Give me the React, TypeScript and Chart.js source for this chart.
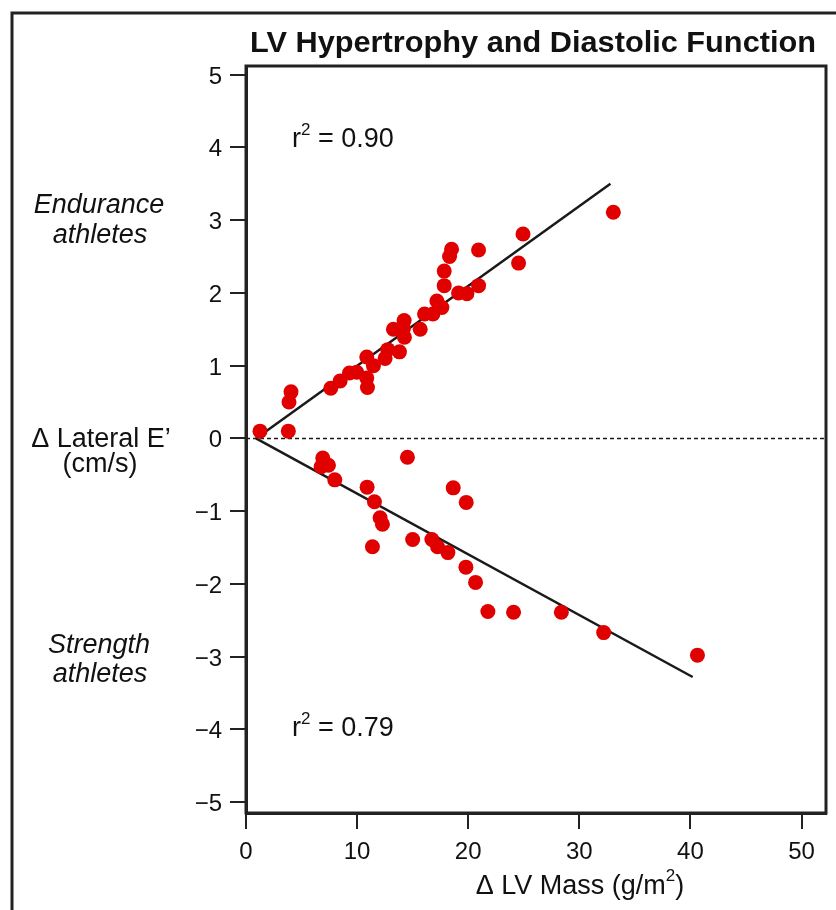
import React, { useEffect, useRef } from "react";
import { Chart, registerables } from "chart.js";

Chart.register(...registerables);

// ---- data ----
const enduranceX = [1.26, 3.81, 3.87, 4.05, 7.63, 8.47, 9.31, 9.97, 10.87, 10.93, 10.87, 11.47, 12.52, 12.76, 13.81, 13.27, 14.23, 14.17, 14.26, 15.68, 16.07, 16.82, 17.18, 17.63, 17.84, 17.84, 18.32, 18.5, 19.13, 19.88, 20.93, 20.93, 24.53, 24.93, 33.06];
const enduranceY = [0.1, 0.1, 0.5, 0.64, 0.69, 0.79, 0.9, 0.91, 0.83, 0.7, 1.12, 1.0, 1.1, 1.22, 1.19, 1.5, 1.62, 1.51, 1.39, 1.5, 1.71, 1.71, 1.89, 1.8, 2.1, 2.3, 2.5, 2.6, 2.0, 1.99, 2.1, 2.59, 2.41, 2.81, 3.11];
const strengthX = [6.91, 6.76, 7.42, 7.99, 10.9, 11.56, 12.07, 12.28, 11.38, 14.53, 15.0, 16.73, 17.24, 18.17, 18.65, 19.82, 19.79, 20.66, 21.77, 24.08, 28.38, 32.19, 40.63];
const strengthY = [-0.27, -0.39, -0.37, -0.57, -0.67, -0.87, -1.09, -1.18, -1.49, -0.26, -1.39, -1.39, -1.49, -1.57, -0.68, -0.88, -1.77, -1.98, -2.38, -2.39, -2.39, -2.67, -2.98];
const enduranceFitX = [0.9, 32.8];
const enduranceFitY = [0, 3.5];
const strengthFitX = [0.9, 40.2];
const strengthFitY = [0, -3.28];
const xTicks = [0, 10, 20, 30, 40, 50];
const yTicks = [-5, -4, -3, -2, -1, 0, 1, 2, 3, 4, 5];
const xRange = [0, 52.2];
const yRange = [-5.15, 5.12];
const referenceY = 0;
const titleText = "LV Hypertrophy and Diastolic Function";
const xTitle = "\u0394 LV Mass (g/m";
const yTitle1 = "\u0394 Lateral E\u2019";
const yTitle2 = "(cm/s)";
const groupTop = ["Endurance", "athletes"];
const groupBottom = ["Strength", "athletes"];
const r2Top = "0.90";
const r2Bottom = "0.79";

const zip = (xs: number[], ys: number[]) => xs.map((x, i) => ({ x, y: ys[i] }));

const FONT = "'Liberation Sans', Arial, Helvetica, sans-serif";
const INK = "#1a1a1a";
const RED = "#e00000";

const fmt = (v: any) => {
  const n = Number(v);
  return n < 0 ? "\u2212" + Math.abs(n) : String(n);
};

function drawText(ctx: CanvasRenderingContext2D, text: string, x: number, y: number, font: string, align: "left" | "center" | "right", sx = 1) {
  ctx.save();
  ctx.font = font;
  const w = ctx.measureText(text).width * sx;
  const left = align === "center" ? x - w / 2 : align === "right" ? x - w : x;
  ctx.translate(left, y);
  ctx.scale(sx, 1);
  ctx.textAlign = "left";
  ctx.textBaseline = "alphabetic";
  ctx.fillText(text, 0, 0);
  ctx.restore();
  return w;
}

function measure(ctx: CanvasRenderingContext2D, text: string, font: string) {
  ctx.save();
  ctx.font = font;
  const w = ctx.measureText(text).width;
  ctx.restore();
  return w;
}

export default function App() {
  const ref = useRef<HTMLCanvasElement | null>(null);

  useEffect(() => {
    document.body.style.margin = "0";
    const canvas = ref.current;
    if (!canvas) return;

    const decor = {
      id: "decor",
      beforeDatasetsDraw(chart: any) {
        const { ctx, chartArea } = chart;
        const y = chart.scales.y.getPixelForValue(referenceY);
        ctx.save();
        ctx.strokeStyle = INK;
        ctx.lineWidth = 1.5;
        ctx.setLineDash([4, 3]);
        ctx.beginPath();
        ctx.moveTo(chartArea.left, y);
        ctx.lineTo(chartArea.right, y);
        ctx.stroke();
        ctx.restore();
      },
      afterDraw(chart: any) {
        const { ctx, chartArea } = chart;
        ctx.save();
        // plot box
        ctx.strokeStyle = "#222";
        ctx.lineWidth = 3;
        ctx.strokeRect(chartArea.left, chartArea.top, chartArea.right - chartArea.left, chartArea.bottom - chartArea.top);
        // outer frame
        ctx.beginPath();
        ctx.moveTo(12, 912);
        ctx.lineTo(12, 13);
        ctx.lineTo(840, 13);
        ctx.stroke();

        ctx.fillStyle = "#111";

        // tick labels
        const tickFont = `24px ${FONT}`;
        const xs = chart.scales.x;
        const ys = chart.scales.y;
        xs.ticks.forEach((t: any) => {
          drawText(ctx, fmt(t.value), xs.getPixelForValue(t.value), 859, tickFont, "center");
        });
        ys.ticks.forEach((t: any) => {
          drawText(ctx, fmt(t.value), 222, ys.getPixelForValue(t.value) + 9, tickFont, "right");
        });

        // title
        const tf = `bold 30px ${FONT}`;
        const tw = measure(ctx, titleText, tf);
        drawText(ctx, titleText, 533, 52, tf, "center", 566 / tw);

        // y title
        const f27 = `27px ${FONT}`;
        drawText(ctx, yTitle1, 101, 447, f27, "center");
        drawText(ctx, yTitle2, 100, 472, f27, "center");

        // group labels
        const fi = `italic 27px ${FONT}`;
        drawText(ctx, groupTop[0], 99, 213, fi, "center");
        drawText(ctx, groupTop[1], 100, 243, fi, "center");
        drawText(ctx, groupBottom[0], 99, 653, fi, "center");
        drawText(ctx, groupBottom[1], 100, 682, fi, "center");

        // x title with superscript
        const supFont = `17px ${FONT}`;
        const wMain = measure(ctx, xTitle, f27);
        const wSup = measure(ctx, "2", supFont);
        const wClose = measure(ctx, ")", f27);
        const x0 = 580 - (wMain + wSup + wClose) / 2;
        drawText(ctx, xTitle, x0, 894, f27, "left");
        drawText(ctx, "2", x0 + wMain, 881, supFont, "left");
        drawText(ctx, ")", x0 + wMain + wSup, 894, f27, "left");

        // r^2 annotations
        const drawR2 = (val: string, base: number) => {
          let x = 292;
          x += drawText(ctx, "r", x, base, f27, "left");
          x += drawText(ctx, "2", x, base - 12, supFont, "left");
          drawText(ctx, " = " + val, x, base, f27, "left");
        };
        drawR2(r2Top, 147);
        drawR2(r2Bottom, 736);
        ctx.restore();
      },
    };

    const chart = new Chart(canvas, {
      type: "scatter",
      data: {
        datasets: [
          {
            label: "Endurance athletes",
            data: zip(enduranceX, enduranceY),
            backgroundColor: RED,
            borderWidth: 0,
            pointRadius: 7.5,
            order: 0,
          },
          {
            label: "Strength athletes",
            data: zip(strengthX, strengthY),
            backgroundColor: RED,
            borderWidth: 0,
            pointRadius: 7.5,
            order: 0,
          },
          {
            label: "Endurance fit",
            data: zip(enduranceFitX, enduranceFitY),
            showLine: true,
            borderColor: INK,
            borderWidth: 2.5,
            pointRadius: 0,
            order: 1,
          },
          {
            label: "Strength fit",
            data: zip(strengthFitX, strengthFitY),
            showLine: true,
            borderColor: INK,
            borderWidth: 2.5,
            pointRadius: 0,
            order: 1,
          },
        ],
      },
      options: {
        responsive: false,
        animation: false,
        layout: { padding: { top: 66, right: 10, left: 0, bottom: 0 } },
        plugins: {
          legend: { display: false },
          tooltip: { enabled: false },
          title: { display: false },
        },
        scales: {
          x: {
            type: "linear",
            min: xRange[0],
            max: xRange[1],
            afterFit: (s: any) => {
              s.height = 97;
            },
            afterBuildTicks: (s: any) => {
              s.ticks = xTicks.map((v) => ({ value: v }));
            },
            border: { display: true, color: "#222", width: 3 },
            grid: { display: true, drawOnChartArea: false, drawTicks: true, tickLength: 16, color: "#222", lineWidth: 2 },
            ticks: { display: false },
          },
          y: {
            type: "linear",
            min: yRange[0],
            max: yRange[1],
            afterFit: (s: any) => {
              s.width = 246;
            },
            afterBuildTicks: (s: any) => {
              s.ticks = yTicks.map((v) => ({ value: v }));
            },
            border: { display: true, color: "#222", width: 3 },
            grid: { display: true, drawOnChartArea: false, drawTicks: true, tickLength: 16, color: "#222", lineWidth: 2 },
            ticks: { display: false },
          },
        },
      },
      plugins: [decor],
    } as any);

    return () => chart.destroy();
  }, []);

  return (
    <div style={{ width: 836, height: 910, background: "#fff" }}>
      <canvas ref={ref} width={836} height={910} style={{ display: "block", width: 836, height: 910 }} />
    </div>
  );
}
